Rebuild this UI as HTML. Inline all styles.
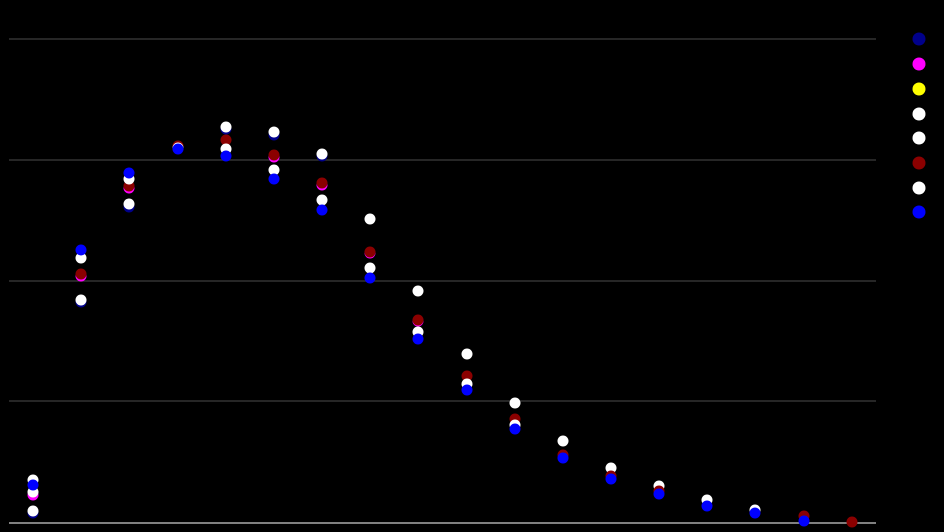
<!DOCTYPE html>
<html><head><style>html,body{margin:0;padding:0;background:#000;width:944px;height:532px;overflow:hidden}</style></head>
<body>
<svg width="944" height="532" xmlns="http://www.w3.org/2000/svg">
<rect width="944" height="532" fill="#000"/>
<g stroke="#333" stroke-width="1.5">
<line x1="9" y1="39" x2="876" y2="39"/>
<line x1="9" y1="160" x2="876" y2="160"/>
<line x1="9" y1="281" x2="876" y2="281"/>
<line x1="9" y1="401" x2="876" y2="401"/>
</g>
<line x1="9" y1="523" x2="876" y2="523" stroke="#aaa" stroke-width="1.5"/>
<g id="pts"></g>
<g>
<circle cx="919" cy="39" r="6.5" fill="#00008b"/>
<circle cx="919" cy="64" r="6.5" fill="#ff00ff"/>
<circle cx="919" cy="89" r="6.5" fill="#ffff00"/>
<circle cx="919" cy="114" r="6.5" fill="#fff"/>
<circle cx="919" cy="138" r="6.5" fill="#fff"/>
<circle cx="919" cy="163" r="6.5" fill="#8b0000"/>
<circle cx="919" cy="188" r="6.5" fill="#fff"/>
<circle cx="919" cy="212" r="6.5" fill="#0000ff"/>
</g>
</svg>
<script>
var C={n:"#00008b",m:"#ff00ff",y:"#ffff00",w:"#fff",r:"#8b0000",b:"#0000ff"};
var d=[
[33,[["n",513],["w",511],["m",495],["w",492],["w",480],["b",485]]],
[81,[["n",302],["w",300],["m",276],["r",274],["w",258],["b",250]]],
[129,[["n",207],["w",204],["m",188],["r",186],["w",179],["b",173]]],
[178,[["r",146],["w",148],["b",149]]],
[226,[["n",129],["w",127],["r",140],["w",149],["b",156]]],
[274,[["n",135],["w",132],["m",157],["r",155],["w",170],["b",179]]],
[322,[["n",156],["w",154],["m",185],["r",183],["w",200],["b",210]]],
[370,[["w",219],["m",253],["r",252],["w",268],["b",278]]],
[418,[["w",291],["m",321],["r",320],["w",332],["b",339]]],
[467,[["w",354],["r",376],["w",384],["b",390]]],
[515,[["w",403],["r",419],["w",425],["b",429]]],
[563,[["w",441],["r",455],["b",458]]],
[611,[["w",468],["r",476],["b",479]]],
[659,[["w",486],["r",491],["b",494]]],
[707,[["w",500],["b",506]]],
[755,[["w",510],["b",513]]],
[804,[["r",516],["b",521]]],
[852,[["r",522]]]];
var g=document.getElementById("pts"),s="";
d.forEach(function(c){c[1].forEach(function(p){s+='<circle cx="'+c[0]+'" cy="'+p[1]+'" r="5.5" fill="'+C[p[0]]+'"/>';});});
g.innerHTML=s;
</script>
</body></html>
